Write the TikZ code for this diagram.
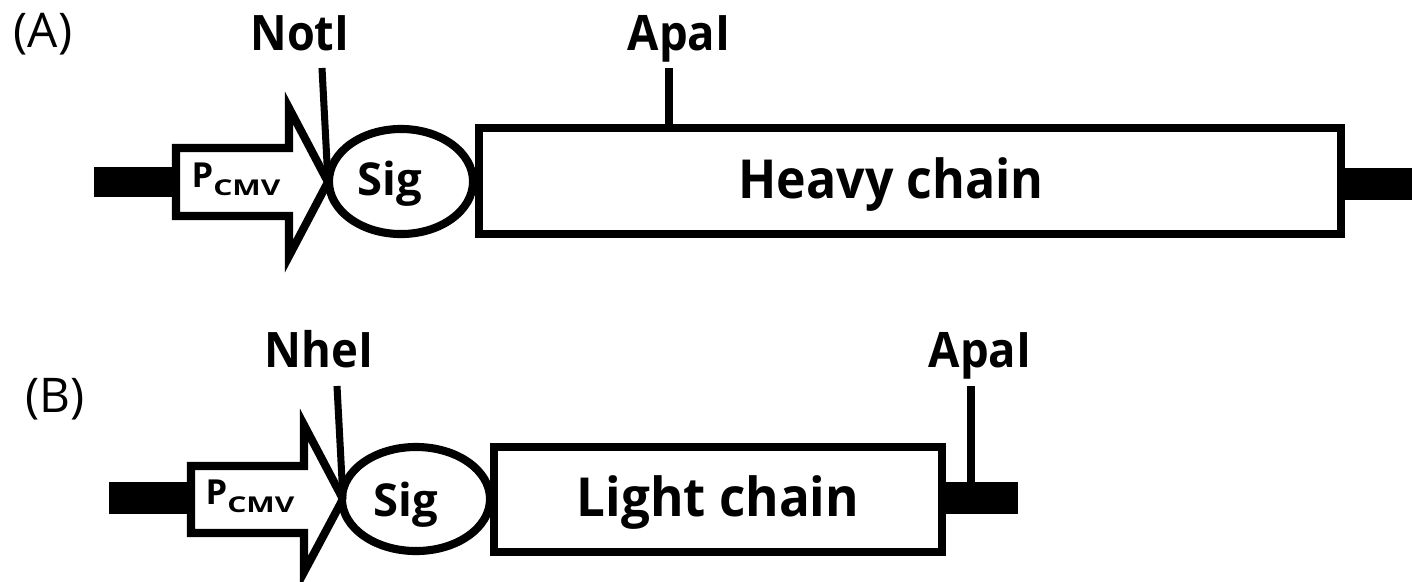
\documentclass[tikz,border=0pt]{standalone}
\usepackage{fontspec}
\setmainfont{Open Sans}
\usetikzlibrary{shapes.geometric}
\newcommand{\pcmv}{P{\fontsize{6.2}{7}\selectfont\raisebox{-2.3pt}{\scalebox{1.38}[1]{CMV}}}}
\newcommand{\narrow}[2]{\scalebox{#1}[1]{#2}}
\begin{document}
\begin{tikzpicture}[x=0.01cm,y=-0.01cm,
  outline/.style={draw=black,line width=2.3pt,fill=white,line join=miter,miter limit=10},
  part/.style={outline,inner sep=0pt,outer sep=0pt},
  signal/.style={part,ellipse},
  genebox/.style={part,rectangle},
  dnabar/.style={fill=black},
  site/.style={draw=black,line width=2pt},
  sitename/.style={font=\fontsize{13.9}{16}\selectfont\bfseries,anchor=base,inner sep=0pt},
  panel/.style={font=\fontsize{13.6}{16}\selectfont,anchor=base,inner sep=0pt},
  genename/.style={font=\fontsize{15.3}{18}\selectfont\bfseries,anchor=base,inner sep=0pt},
  signame/.style={font=\fontsize{12.9}{15}\selectfont\bfseries,anchor=base,inner sep=0pt},
  promname/.style={font=\fontsize{9.8}{11}\selectfont\bfseries,anchor=base,inner sep=0pt}]
\useasboundingbox (0,0) rectangle (1412,581);

% ---------- (A) heavy chain construct ----------
\node[panel] (labA) at (43,47) {(A)};
\fill[dnabar] (94,167) rectangle (172,197);
\fill[dnabar] (1341,168) rectangle (1412,200);
\draw[outline] (176,148) -- (289,148) -- (289,108) -- (328,182) -- (289,256)
  -- (289,216) -- (176,216) -- cycle;
\coordinate (tipA) at (328,182);
\node[promname] (promA) at (236,187) {\pcmv};
\node[signal,minimum width=1.44cm,minimum height=1.05cm] (sigA) at (401,181.5) {};
\node[signame] at (390,195) {Sig};
\node[genebox,minimum width=8.62cm,minimum height=1.06cm] (heavy) at (910,181) {};
\node[genename] at (891,198) {\narrow{0.93}{Heavy chain}};
\node[sitename] (notI) at (300,50) {\narrow{0.92}{NotI}};
\node[sitename] (apaA) at (679,50) {\narrow{0.93}{ApaI}};
\coordinate (notItop) at (322,68);
\coordinate (apaAtop) at (669,68);
\draw[site] (notItop) -- (tipA);
\draw[site] (apaAtop) -- (apaAtop |- heavy.north);

% ---------- (B) light chain construct ----------
\node[panel] (labB) at (55,412) {(B)};
\fill[dnabar] (109,482) rectangle (187,514);
\fill[dnabar] (942,482) rectangle (1018,514);
\draw[outline] (191,466) -- (304,466) -- (304,425) -- (343,499) -- (304,572)
  -- (304,533) -- (191,533) -- cycle;
\coordinate (tipB) at (343,499);
\node[promname] (promB) at (250,504) {\pcmv};
\node[signal,minimum width=1.48cm,minimum height=1.04cm] (sigB) at (416,499) {};
\node[signame] at (406,516) {Sig};
\node[genebox,minimum width=4.48cm,minimum height=1.05cm] (light) at (718,499.5) {};
\node[genename] at (718,516) {\narrow{0.95}{Light chain}};
\node[sitename] (nheI) at (319,367) {\narrow{0.93}{NheI}};
\node[sitename] (apaB) at (980,367) {\narrow{0.93}{ApaI}};
\coordinate (nheItop) at (337,386);
\coordinate (apaBtop) at (971,386);
\draw[site] (nheItop) -- (tipB);
\draw[site] (apaBtop) -- (971,482);
\end{tikzpicture}
\end{document}
